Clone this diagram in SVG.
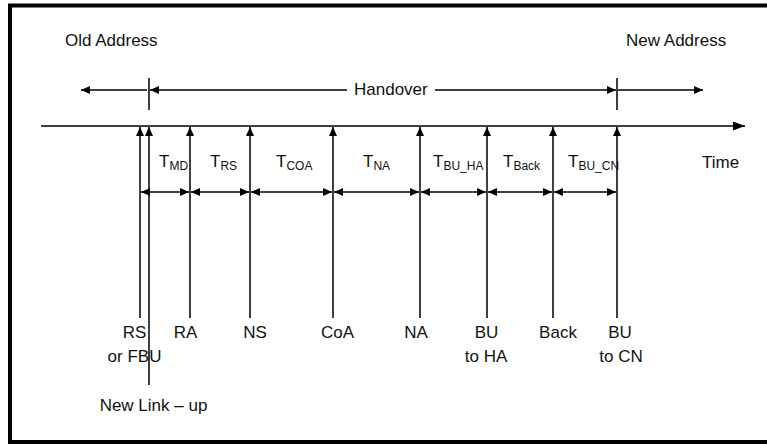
<svg xmlns="http://www.w3.org/2000/svg" width="767" height="444" viewBox="0 0 767 444">
  <style>
    .txt { font-family: "Liberation Sans", Arial, sans-serif; font-size: 17px; fill: #111; }
    .mid { text-anchor: middle; }
    .sub { font-size: 12px; }
    .ln { stroke: #000; stroke-width: 1.5; fill: none; }
  </style>
  <defs>
    <marker id="head" markerUnits="userSpaceOnUse" markerWidth="10" markerHeight="8" refX="9" refY="4" orient="auto-start-reverse">
      <path d="M0,0 L9,4 L0,8 Z" fill="#000"/>
    </marker>
    <marker id="headBig" markerUnits="userSpaceOnUse" markerWidth="13" markerHeight="9" refX="12" refY="4.5" orient="auto">
      <path d="M0,0 L12,4.5 L0,9 Z" fill="#000"/>
    </marker>
  </defs>

  <rect width="767" height="444" fill="#fff"/>
  <!-- frame (open on the right side) -->
  <path d="M780,5.5 H10 V442 H780" fill="none" stroke="#000" stroke-width="4"/>

  <!-- address and time labels -->
  <g id="old-address"><text class="txt" x="65" y="46">Old Address</text></g>
  <g id="new-address"><text class="txt" x="626" y="46">New Address</text></g>
  <g id="time-label"><text class="txt" x="702" y="168">Time</text></g>

  <!-- handover span -->
  <g id="handover">
    <text class="txt" x="354" y="95">Handover</text>
  </g>

  <g id="connectors">
    <!-- handover row -->
    <line class="ln" x1="149" y1="78" x2="149" y2="110"/>
    <line class="ln" x1="617" y1="78" x2="617" y2="110"/>
    <line class="ln" x1="147" y1="90" x2="81" y2="90" marker-end="url(#head)"/>
    <line class="ln" x1="347" y1="90" x2="150" y2="90" marker-end="url(#head)"/>
    <line class="ln" x1="435" y1="90" x2="616" y2="90" marker-end="url(#head)"/>
    <line class="ln" x1="618" y1="90" x2="703" y2="90" marker-end="url(#head)"/>

    <!-- time axis -->
    <line class="ln" x1="41" y1="126" x2="745" y2="126" marker-end="url(#headBig)"/>

    <!-- event lines pointing up to the axis -->
    <line class="ln" x1="140" y1="318" x2="140" y2="127" marker-end="url(#head)"/>
    <line class="ln" x1="149" y1="385" x2="149" y2="127" marker-end="url(#head)"/>
    <line class="ln" x1="190" y1="318" x2="190" y2="127" marker-end="url(#head)"/>
    <line class="ln" x1="250" y1="318" x2="250" y2="127" marker-end="url(#head)"/>
    <line class="ln" x1="333" y1="318" x2="333" y2="127" marker-end="url(#head)"/>
    <line class="ln" x1="420" y1="318" x2="420" y2="127" marker-end="url(#head)"/>
    <line class="ln" x1="487" y1="318" x2="487" y2="127" marker-end="url(#head)"/>
    <line class="ln" x1="553" y1="318" x2="553" y2="127" marker-end="url(#head)"/>
    <line class="ln" x1="617" y1="318" x2="617" y2="127" marker-end="url(#head)"/>

    <!-- interval dimensions -->
    <line class="ln" x1="141" y1="192" x2="189" y2="192" marker-start="url(#head)" marker-end="url(#head)"/>
    <line class="ln" x1="191" y1="192" x2="249" y2="192" marker-start="url(#head)" marker-end="url(#head)"/>
    <line class="ln" x1="251" y1="192" x2="332" y2="192" marker-start="url(#head)" marker-end="url(#head)"/>
    <line class="ln" x1="334" y1="192" x2="419" y2="192" marker-start="url(#head)" marker-end="url(#head)"/>
    <line class="ln" x1="421" y1="192" x2="486" y2="192" marker-start="url(#head)" marker-end="url(#head)"/>
    <line class="ln" x1="488" y1="192" x2="552" y2="192" marker-start="url(#head)" marker-end="url(#head)"/>
    <line class="ln" x1="554" y1="192" x2="616" y2="192" marker-start="url(#head)" marker-end="url(#head)"/>
  </g>

  <!-- interval labels -->
  <g id="t-md"><text class="txt" x="159" y="167">T<tspan class="sub" dy="3">MD</tspan></text></g>
  <g id="t-rs"><text class="txt" x="210" y="167">T<tspan class="sub" dy="3">RS</tspan></text></g>
  <g id="t-coa"><text class="txt" x="276" y="167">T<tspan class="sub" dy="3" font-size="11">COA</tspan></text></g>
  <g id="t-na"><text class="txt" x="363" y="167">T<tspan class="sub" dy="3">NA</tspan></text></g>
  <g id="t-bu-ha"><text class="txt" x="433" y="167">T<tspan class="sub" dy="3">BU_HA</tspan></text></g>
  <g id="t-back"><text class="txt" x="503" y="167">T<tspan class="sub" dy="3">Back</tspan></text></g>
  <g id="t-bu-cn"><text class="txt" x="568" y="167">T<tspan class="sub" dy="3">BU_CN</tspan></text></g>

  <!-- event labels -->
  <g id="ev-rs"><text class="txt mid" x="134.5" y="338">RS</text><text class="txt mid" x="134.5" y="362">or FBU</text></g>
  <g id="ev-link"><text class="txt mid" x="153.5" y="411">New Link – up</text></g>
  <g id="ev-ra"><text class="txt mid" x="185.5" y="338">RA</text></g>
  <g id="ev-ns"><text class="txt mid" x="255" y="338">NS</text></g>
  <g id="ev-coa"><text class="txt mid" x="337.5" y="338">CoA</text></g>
  <g id="ev-na"><text class="txt mid" x="416" y="338">NA</text></g>
  <g id="ev-bu-ha"><text class="txt mid" x="486.5" y="338">BU</text><text class="txt mid" x="486" y="362">to HA</text></g>
  <g id="ev-back"><text class="txt mid" x="558" y="338">Back</text></g>
  <g id="ev-bu-cn"><text class="txt mid" x="620" y="338">BU</text><text class="txt mid" x="621" y="362">to CN</text></g>
</svg>
